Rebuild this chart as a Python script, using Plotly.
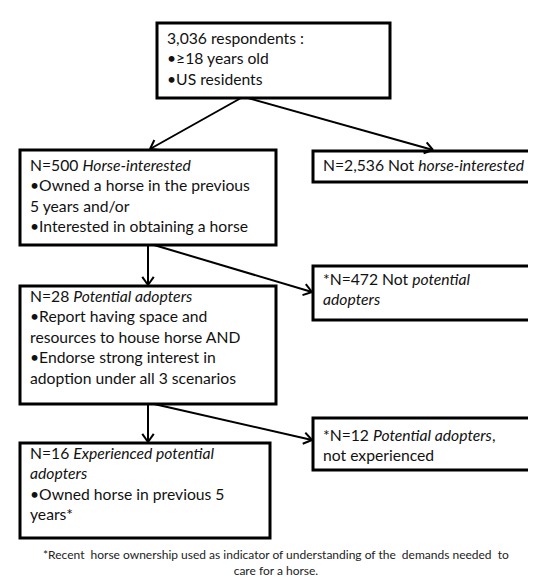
import math
import plotly.graph_objects as go

# ---- data (text content of the flowchart) ----
box_labels = [
    "3,036 respondents :<br>•≥18 years old<br>•US residents",
    "N=500 <i>Horse-interested</i><br>•Owned a horse in the previous<br>5 years and/or<br>•Interested in obtaining a horse",
    "N=2,536 Not <i>horse-interested</i>",
    "*N=472 Not <i>potential</i><br><i>adopters</i>",
    "N=28 <i>Potential adopters</i><br>•Report having space and<br>resources to house horse AND<br>•Endorse strong interest in<br>adoption under all 3 scenarios",
    "*N=12 <i>Potential adopters</i>,<br>not experienced",
    "N=16 <i>Experienced potential</i><br><i>adopters</i><br>•Owned horse in previous 5<br>years*",
]
footnote = ("*Recent  horse ownership used as indicator of understanding of the  demands needed  to<br>"
            "care for a horse.")

# ---- layout geometry (pixels, y downward) ----
W, H = 536, 577
boxes = [  # x0, y0, x1, y1, text top padding
    (149, 15, 382, 90, 4),
    (12, 142, 268, 237, 4),
    (305, 143, 532, 174, 3),
    (305, 258, 532, 312, 2),
    (12, 278, 268, 396, -1),
    (305, 410, 532, 462, 6),
    (12, 435, 262, 530, -1),
]
arrows = [  # from (x, y) to (x, y)
    ((233, 90), (142, 141)),
    ((240, 90), (425, 142)),
    ((140, 237), (140, 277)),
    ((146, 237), (304, 284)),
    ((140, 396), (140, 434)),
    ((146, 396), (304, 432)),
]

FONT = "Lato, 'Open Sans', sans-serif"
fig = go.Figure()
shapes = []
annotations = []

for (x0, y0, x1, y1, pad), label in zip(boxes, box_labels):
    shapes.append(dict(type="rect", xref="x", yref="y", x0=x0, y0=y0, x1=x1, y1=y1,
                       line=dict(color="black", width=3), fillcolor="white", layer="below"))
    annotations.append(dict(x=x0 + 8, y=y0 + pad, xref="x", yref="y", text=label,
                            showarrow=False, xanchor="left", yanchor="top", align="left",
                            font=dict(family=FONT, size=15.7, color="#111")))

for (sx, sy), (ex, ey) in arrows:
    shapes.append(dict(type="line", xref="x", yref="y", x0=sx, y0=sy, x1=ex, y1=ey,
                       line=dict(color="black", width=2)))
    ang = math.atan2(ey - sy, ex - sx)
    L = 10
    for d in (math.radians(35), -math.radians(35)):
        a = ang + math.pi + d
        shapes.append(dict(type="line", xref="x", yref="y", x0=ex, y0=ey,
                           x1=ex + L * math.cos(a), y1=ey + L * math.sin(a),
                           line=dict(color="black", width=2)))

annotations.append(dict(x=W / 2, y=538, xref="x", yref="y", text=footnote, showarrow=False,
                        xanchor="center", yanchor="top", align="center", borderpad=0,
                        font=dict(family=FONT, size=12, color="#222")))

fig.update_layout(
    width=W, height=H, margin=dict(l=0, r=0, t=0, b=0),
    paper_bgcolor="white", plot_bgcolor="white",
    xaxis=dict(range=[0, W], visible=False, fixedrange=True),
    yaxis=dict(range=[H, 0], visible=False, fixedrange=True),
    shapes=shapes, annotations=annotations, showlegend=False,
)
fig.write_html("out.html")
